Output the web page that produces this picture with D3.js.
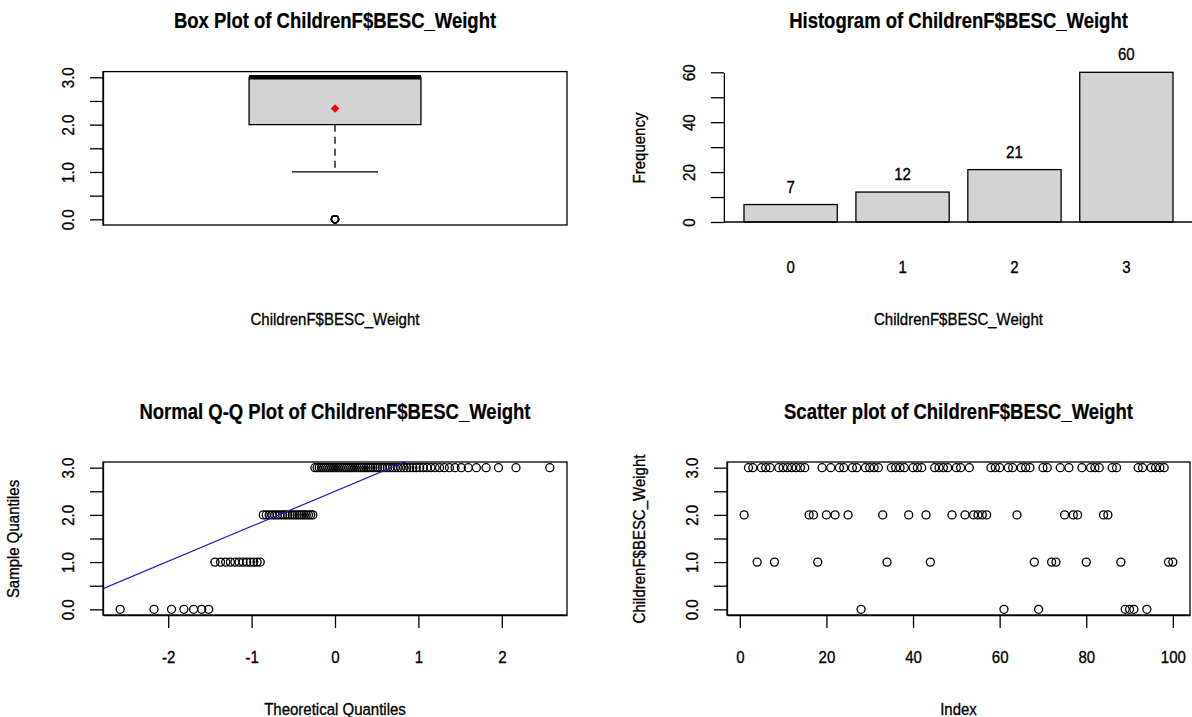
<!DOCTYPE html>
<html>
<head>
<meta charset="utf-8">
<script src="https://cdn.jsdelivr.net/npm/d3@7"></script>
<style>
  body { margin: 0; background: #fff; }
  svg text { font-family: "Liberation Sans", Arial, sans-serif; fill: #000; stroke: #000; stroke-width: 0.3px; }
  svg text.main { stroke-width: 0.2px; }
</style>
</head>
<body>
<svg id="chart" width="1192" height="717"></svg>
<script>
// ChildrenF$BESC_Weight, one value per index
const weightValues = [
  2, 3, 3, 1, 3, 3, 3, 1, 3, 3,
  3, 3, 3, 3, 3, 2, 2, 1, 3, 2,
  3, 2, 3, 3, 2, 3, 3, 0, 3, 3,
  3, 3, 2, 1, 3, 3, 3, 3, 2, 3,
  3, 3, 2, 1, 3, 3, 3, 3, 2, 3,
  3, 2, 3, 2, 2, 2, 2, 3, 3, 3,
  0, 3, 3, 2, 3, 3, 3, 1, 0, 3,
  3, 1, 1, 3, 2, 3, 2, 2, 3, 1,
  3, 3, 3, 2, 2, 3, 3, 1, 0, 0,
  0, 3, 3, 0, 3, 3, 3, 3, 1, 1
];

// bar chart of the frequencies
const barCategories = ["0", "1", "2", "3"];
const barCounts = [7, 12, 21, 60];

// tick values and labels
const weightTicks = [0, 0.5, 1, 1.5, 2, 2.5, 3];
const weightTickLabels = ["0.0", "", "1.0", "", "2.0", "", "3.0"];
const freqTicks = [0, 10, 20, 30, 40, 50, 60];
const freqTickLabels = ["0", "", "20", "", "40", "", "60"];
const qqTicks = [-2, -1, 0, 1, 2];
const indexTicks = [0, 20, 40, 60, 80, 100];

const varName = "ChildrenF$BESC_Weight";
const titles = [
  "Box Plot of " + varName,
  "Histogram of " + varName,
  "Normal Q-Q Plot of " + varName,
  "Scatter plot of " + varName
];

const svg = d3.select("#chart");
const lineW = 1.3;
const tickLen = 13;
const textStretch = 1.14;   // R's text comes out a bit taller than Liberation Sans
const titleStretch = 1.22;

// plot regions
const leftX = [103, 567], rightX = [727, 1190];
const topY = [225, 71.6], bottomY = [615, 462];

// inverse normal cdf (Acklam) for the theoretical quantiles
function qnorm(p) {
  const a = [-3.969683028665376e+01, 2.209460984245205e+02, -2.759285104469687e+02, 1.383577518672690e+02, -3.066479806614716e+01, 2.506628277459239e+00];
  const b = [-5.447609879822406e+01, 1.615858368580409e+02, -1.556989798598866e+02, 6.680131188771972e+01, -1.328068155288572e+01];
  const c = [-7.784894002430293e-03, -3.223964580411365e-01, -2.400758277161838e+00, -2.549732539343734e+00, 4.374664141464968e+00, 2.938163982698783e+00];
  const d = [7.784695709041462e-03, 3.224671290700398e-01, 2.445134137142996e+00, 3.754408661907416e+00];
  const pl = 0.02425;
  let q, r;
  if (p < pl) {
    q = Math.sqrt(-2 * Math.log(p));
    return (((((c[0]*q+c[1])*q+c[2])*q+c[3])*q+c[4])*q+c[5]) / ((((d[0]*q+d[1])*q+d[2])*q+d[3])*q+1);
  }
  if (p > 1 - pl) {
    q = Math.sqrt(-2 * Math.log(1 - p));
    return -(((((c[0]*q+c[1])*q+c[2])*q+c[3])*q+c[4])*q+c[5]) / ((((d[0]*q+d[1])*q+d[2])*q+d[3])*q+1);
  }
  q = p - 0.5; r = q * q;
  return (((((a[0]*r+a[1])*r+a[2])*r+a[3])*r+a[4])*r+a[5])*q / (((((b[0]*r+b[1])*r+b[2])*r+b[3])*r+b[4])*r+1);
}

const at = (x, y, s) => "translate(" + x + "," + y + ") scale(1," + s + ")";

const styleAxis = (g) => {
  g.attr("font-family", null).attr("font-size", 15);
  g.selectAll("path.domain").attr("stroke", "#000").attr("stroke-width", lineW);
  g.selectAll(".tick line").attr("stroke", "#000").attr("stroke-width", lineW);
  g.selectAll(".tick text").attr("fill", "#000");
};

const drawYAxis = (x0, scale, ticks, labels) => {
  const g = svg.append("g").attr("transform", "translate(" + x0 + ",0)");
  g.call(d3.axisLeft(scale).tickValues(ticks).tickSize(tickLen).tickSizeOuter(0)
    .tickFormat((d, i) => labels[i]));
  styleAxis(g);
  g.selectAll(".tick text")
    .attr("transform", "translate(-29,0) rotate(-90) scale(1,1.06)")
    .attr("x", 0).attr("y", 0).attr("dy", 0)
    .attr("text-anchor", "middle");
  return g;
};

const drawXAxis = (y0, scale, ticks, baseline) => {
  const g = svg.append("g").attr("transform", "translate(0," + y0 + ")");
  g.call(d3.axisBottom(scale).tickValues(ticks).tickSize(tickLen).tickSizeOuter(0)
    .tickFormat(d => String(d)));
  styleAxis(g);
  g.selectAll(".tick text")
    .attr("transform", at(0, baseline, textStretch))
    .attr("y", 0).attr("dy", 0);
  return g;
};

const drawFrame = (xr, yr) => {
  svg.append("rect")
    .attr("x", xr[0]).attr("y", yr[1])
    .attr("width", xr[1] - xr[0]).attr("height", yr[0] - yr[1])
    .attr("fill", "none").attr("stroke", "#000").attr("stroke-width", lineW);
};

const title = (txt, x, y) => {
  svg.append("text").attr("class", "main")
    .attr("transform", at(x, y, titleStretch))
    .attr("text-anchor", "middle").attr("font-size", 18.5).attr("font-weight", "bold")
    .text(txt);
};

const xLabel = (txt, x, y) => {
  svg.append("text").attr("transform", at(x, y, textStretch))
    .attr("text-anchor", "middle").attr("font-size", 15).text(txt);
};

const yLabel = (txt, x, y) => {
  svg.append("text")
    .attr("transform", "translate(" + x + "," + y + ") rotate(-90) scale(1,1.06)")
    .attr("text-anchor", "middle").attr("font-size", 15).text(txt);
};

const sorted = weightValues.slice().sort(d3.ascending);

// ---------- Box plot ----------
const boxX = d3.scaleLinear().domain([0.46, 1.54]).range(leftX);
const boxY = d3.scaleLinear().domain([-0.12, 3.12]).range(topY);
const q1 = d3.quantile(sorted, 0.25);
const med = d3.quantile(sorted, 0.5);
const q3 = d3.quantile(sorted, 0.75);
const iqr = q3 - q1;
const loW = d3.min(sorted.filter(v => v >= q1 - 1.5 * iqr));
const hiW = d3.max(sorted.filter(v => v <= q3 + 1.5 * iqr));
const outliers = sorted.filter(v => v < loW || v > hiW);
const meanV = d3.mean(weightValues);

svg.append("rect")
  .attr("x", boxX(0.8)).attr("y", boxY(q3))
  .attr("width", boxX(1.2) - boxX(0.8)).attr("height", boxY(q1) - boxY(q3))
  .attr("fill", "#d3d3d3").attr("stroke", "#000").attr("stroke-width", lineW);
// lower whisker
svg.append("line")
  .attr("x1", boxX(1)).attr("x2", boxX(1))
  .attr("y1", boxY(q1)).attr("y2", boxY(loW))
  .attr("stroke", "#000").attr("stroke-width", lineW).attr("stroke-dasharray", "7,5");
svg.append("line")
  .attr("x1", boxX(0.9)).attr("x2", boxX(1.1))
  .attr("y1", boxY(loW)).attr("y2", boxY(loW))
  .attr("stroke", "#000").attr("stroke-width", lineW);
if (hiW > q3) {
  svg.append("line")
    .attr("x1", boxX(1)).attr("x2", boxX(1))
    .attr("y1", boxY(q3)).attr("y2", boxY(hiW))
    .attr("stroke", "#000").attr("stroke-width", lineW).attr("stroke-dasharray", "7,5");
}
// median
svg.append("line")
  .attr("x1", boxX(0.8)).attr("x2", boxX(1.2))
  .attr("y1", boxY(med)).attr("y2", boxY(med))
  .attr("stroke", "#000").attr("stroke-width", 4.5);
// outliers
svg.append("g").selectAll("circle")
  .data(outliers)
  .join("circle")
  .attr("cx", boxX(1)).attr("cy", d => boxY(d)).attr("r", 3.6)
  .attr("fill", "none").attr("stroke", "#000").attr("stroke-width", lineW);
// mean
svg.append("path")
  .attr("d", d3.symbol(d3.symbolSquare, 36)())
  .attr("transform", "translate(" + boxX(1) + "," + boxY(meanV) + ") rotate(45)")
  .attr("fill", "#ff0000");

drawYAxis(leftX[0], boxY, weightTicks, weightTickLabels);
drawFrame(leftX, topY);
title(titles[0], (leftX[0] + leftX[1]) / 2, 28);
xLabel(varName, (leftX[0] + leftX[1]) / 2, 325);

// ---------- Histogram (bar plot of counts) ----------
const barX = d3.scaleLinear().domain([0.2, 4.8]).range([744, 1173]);
const barY = d3.scaleLinear().domain([0, 60]).range([222, 72.3]);
const barW = 1, barSpace = 0.2;
const barLeft = (i) => barSpace + i * (barW + barSpace);

svg.append("g").selectAll("rect")
  .data(barCounts)
  .join("rect")
  .attr("x", (d, i) => barX(barLeft(i)))
  .attr("y", d => barY(d))
  .attr("width", barX(barW + barSpace) - barX(barSpace))
  .attr("height", d => barY(0) - barY(d))
  .attr("fill", "#d3d3d3").attr("stroke", "#000").attr("stroke-width", lineW);

svg.append("g").selectAll("text")
  .data(barCounts)
  .join("text")
  .attr("transform", (d, i) => at(barX(barLeft(i) + barW / 2), barY(d) - 12, textStretch))
  .attr("text-anchor", "middle").attr("font-size", 15)
  .text(d => d);

svg.append("g").selectAll("text")
  .data(barCategories)
  .join("text")
  .attr("transform", (d, i) => at(barX(barLeft(i) + barW / 2), 273, textStretch))
  .attr("text-anchor", "middle").attr("font-size", 15)
  .text(d => d);

svg.append("line")
  .attr("x1", barX(-0.016)).attr("x2", 1192)
  .attr("y1", barY(0)).attr("y2", barY(0))
  .attr("stroke", "#000").attr("stroke-width", lineW);

drawYAxis(barX(-0.016), barY, freqTicks, freqTickLabels);
title(titles[1], (rightX[0] + rightX[1]) / 2, 28);
xLabel(varName, (rightX[0] + rightX[1]) / 2, 325);
yLabel("Frequency", 645, 148);

// ---------- Normal Q-Q plot ----------
const n = sorted.length;
const qqPoints = sorted.map((v, i) => ({ t: qnorm((i + 0.5) / n), s: v }));
const tMax = d3.max(qqPoints, d => Math.abs(d.t));
const qqX = d3.scaleLinear().domain([-tMax * 1.08, tMax * 1.08]).range(leftX);
const qqY = d3.scaleLinear().domain([-0.12, 3.12]).range(bottomY);

svg.append("defs").append("clipPath").attr("id", "qqClip")
  .append("rect")
  .attr("x", leftX[0]).attr("y", bottomY[1])
  .attr("width", leftX[1] - leftX[0]).attr("height", bottomY[0] - bottomY[1]);

svg.append("g").selectAll("circle")
  .data(qqPoints)
  .join("circle")
  .attr("cx", d => qqX(d.t)).attr("cy", d => qqY(d.s)).attr("r", 4)
  .attr("fill", "none").attr("stroke", "#000").attr("stroke-width", lineW);

// qqline through the quartiles
const slope = (q3 - q1) / (qnorm(0.75) - qnorm(0.25));
const intercept = q1 - slope * qnorm(0.25);
const xd = qqX.domain();
svg.append("line")
  .attr("clip-path", "url(#qqClip)")
  .attr("x1", qqX(xd[0])).attr("y1", qqY(intercept + slope * xd[0]))
  .attr("x2", qqX(xd[1])).attr("y2", qqY(intercept + slope * xd[1]))
  .attr("stroke", "#1c1cc8").attr("stroke-width", 1.2);

drawYAxis(leftX[0], qqY, weightTicks, weightTickLabels);
drawXAxis(bottomY[0], qqX, qqTicks, 48);
drawFrame(leftX, bottomY);
title(titles[2], (leftX[0] + leftX[1]) / 2, 419);
xLabel("Theoretical Quantiles", (leftX[0] + leftX[1]) / 2, 715);
yLabel("Sample Quantiles", 19, 539);

// ---------- Scatter plot ----------
const scX = d3.scaleLinear().domain([1 - 0.04 * 99, 100 + 0.04 * 99]).range(rightX);
const scY = d3.scaleLinear().domain([-0.12, 3.12]).range(bottomY);

svg.append("g").selectAll("circle")
  .data(weightValues)
  .join("circle")
  .attr("cx", (d, i) => scX(i + 1)).attr("cy", d => scY(d)).attr("r", 4)
  .attr("fill", "none").attr("stroke", "#000").attr("stroke-width", lineW);

drawYAxis(rightX[0], scY, weightTicks, weightTickLabels);
drawXAxis(bottomY[0], scX, indexTicks, 48);
drawFrame(rightX, bottomY);
title(titles[3], (rightX[0] + rightX[1]) / 2, 419);
xLabel("Index", (rightX[0] + rightX[1]) / 2, 715);
yLabel(varName, 645, 539);
</script>
</body>
</html>
